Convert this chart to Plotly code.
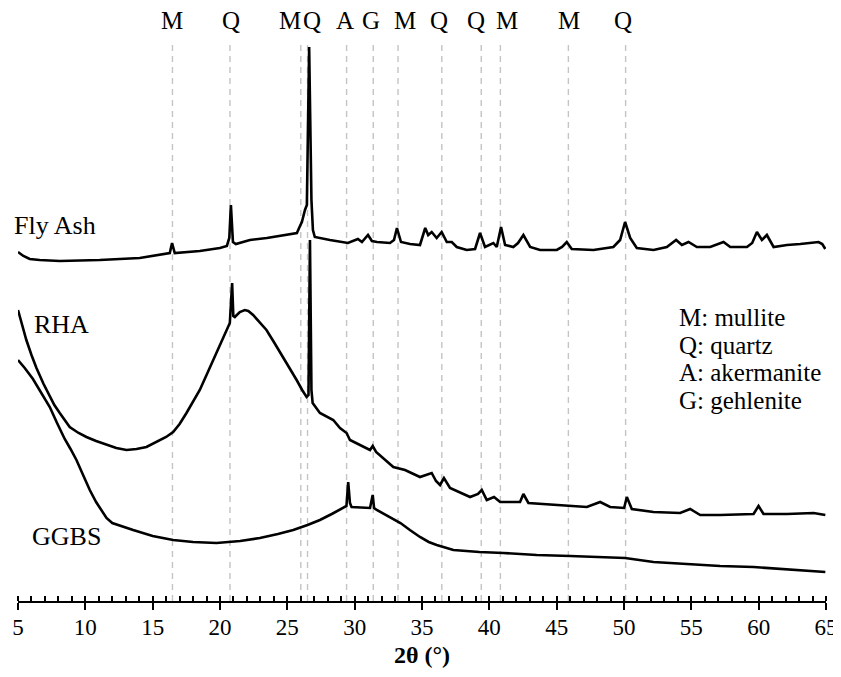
import plotly.graph_objects as go

# 2theta (deg) and relative intensity (a.u.)
fa_2theta = [5.0, 5.4, 5.87, 6.61, 8.1, 11.07, 14.04, 15.9, 16.27, 16.44, 16.64, 18.5, 19.99, 20.51, 20.69,
             20.81, 20.96, 21.18, 22.22, 23.48, 24.45, 25.71, 25.94, 26.08, 26.31, 26.45, 26.62, 26.79,
             26.9, 27.04, 28.16, 29.5, 30.24, 30.54, 30.99, 31.28, 31.66, 32.62, 32.92, 33.14, 33.44,
             34.11, 34.85, 35.24, 35.46, 35.72, 36.09, 36.46, 36.84, 37.21, 37.58, 38.32, 38.94, 39.31,
             39.68, 40.3, 40.55, 40.87, 41.17, 41.78, 42.13, 42.53, 43.03, 43.77, 45.01, 45.4, 45.75,
             46.12, 47.73, 49.21, 49.71, 50.08, 50.46, 50.95, 52.19, 53.18, 53.87, 54.3, 54.79, 55.41,
             56.4, 57.39, 57.89, 59.13, 59.52, 59.87, 60.24, 60.61, 61.11, 62.1, 63.09, 63.83, 64.45,
             64.72, 64.95]
fa_int = [349, 345, 342, 341, 340, 341, 343, 347, 348, 358, 348, 350, 353, 355, 363,
          396, 359, 357, 361, 363, 365, 368, 375, 379, 391, 396, 554, 401,
          371, 364, 361, 358, 362, 359, 366, 360, 359, 358, 361, 373, 359,
          357, 356, 373, 366, 369, 363, 369, 359, 359, 354, 351, 352, 368,
          354, 358, 354, 374, 356, 354, 358, 366, 354, 351, 351, 354, 359,
          352, 351, 354, 361, 379, 363, 353, 351, 354, 361, 356, 359, 354,
          354, 359, 354, 354, 358, 369, 361, 366, 354, 356, 357, 358, 359,
          357, 352]

rha_2theta = [5.0, 5.3, 5.62, 6.0, 6.37, 6.9, 7.36, 7.7, 8.1, 8.5, 8.84, 9.5, 10.08, 10.8, 11.57, 12.3,
              13.06, 13.8, 14.54, 15.0, 15.53, 16.0, 16.52, 17.0, 17.51, 18.0, 18.5, 19.0, 19.49, 19.9,
              20.23, 20.5, 20.73, 20.9, 20.99, 21.1, 21.47, 21.84, 22.1, 22.46, 22.9, 23.45, 24.0,
              24.69, 25.2, 25.69, 26.1, 26.43, 26.57, 26.68, 26.79, 26.88, 27.42, 28.41, 28.91, 29.4,
              29.65, 30.39, 31.14, 31.34, 31.59, 32.87, 33.74, 34.85, 35.72, 36.04, 36.34, 36.63, 37.08,
              38.57, 39.16, 39.44, 39.81, 40.35, 40.8, 42.28, 42.53, 42.9, 44.76, 47.24, 48.23, 48.97,
              50.01, 50.21, 50.58, 52.19, 54.17, 54.91, 55.66, 57.14, 59.62, 59.99, 60.36, 62.1, 64.08,
              64.95]
rha_int = [291, 276, 261, 246, 233, 217, 205, 196, 188, 180, 174, 168, 164, 160, 156, 153,
           151, 152, 154, 157, 161, 164, 169, 177, 188, 199, 211, 226, 241, 254,
           264, 272, 278, 318, 285, 284, 289, 291, 290, 286, 279, 271, 259,
           244, 233, 221, 211, 204, 206, 361, 211, 198, 188, 181, 173, 168,
           161, 156, 151, 155, 149, 134, 131, 124, 128, 120, 116, 123, 113,
           104, 107, 111, 101, 104, 99, 99, 107, 98, 96, 94, 99, 94,
           93, 104, 92, 89, 88, 92, 86, 86, 87, 95, 87, 87, 88,
           86]

ggbs_2theta = [5.0, 5.5, 6.11, 6.7, 7.36, 7.9, 8.47, 8.9, 9.34, 9.8, 10.33, 10.8, 11.2, 11.57, 12.0,
               12.6, 13.55, 15.0, 16.52, 18.0, 19.74, 21.5, 22.96, 24.3, 25.44, 26.5, 27.42, 28.3,
               29.15, 29.39, 29.52, 29.65, 29.77, 31.14, 31.34, 31.44, 31.64, 32.5, 33.4, 34.1, 34.85,
               35.5, 36.09, 37.33, 39.26, 41.04, 43.52, 46.0, 48.47, 50.08, 52.19, 54.67, 57.14, 59.62,
               62.1, 64.95]
ggbs_int = [241, 233, 222, 209, 194, 178, 162, 152, 141, 127, 111, 99, 90, 83, 78,
            75, 71, 65, 61, 59, 58, 60, 63, 67, 71, 76, 81, 87,
            93, 95, 119, 98, 94, 93, 106, 93, 91, 85, 78, 71, 64,
            59, 56, 51, 49, 48, 46, 45, 44, 43, 39, 37, 35, 34,
            32, 29]

# reference lines and phase labels
ref_lines = [16.47, 20.74, 26.0, 26.5, 29.4, 31.38, 33.22, 36.47, 39.4, 40.82, 45.87, 50.12]
phase_labels = ["M", "Q", "M", "Q", "A", "G", "M", "Q", "Q", "M", "M", "Q"]
phase_label_x = [16.42, 20.8, 25.19, 26.83, 29.28, 31.21, 33.74, 36.26, 39.01, 41.32, 45.93, 49.94]

legend_lines = ["M: mullite", "Q: quartz", "A: akermanite", "G: gehlenite"]
legend_y = [284, 256, 229, 201]

FONT = "Liberation Serif"

fig = go.Figure()
for xs, ys in [(fa_2theta, fa_int), (rha_2theta, rha_int), (ggbs_2theta, ggbs_int)]:
    fig.add_trace(go.Scatter(x=xs, y=ys, mode="lines", line=dict(color="black", width=2.6),
                             showlegend=False, hoverinfo="skip"))

for xv in ref_lines:
    fig.add_shape(type="line", x0=xv, x1=xv, y0=0, y1=1, xref="x", yref="paper", layer="below",
                  line=dict(color="#c4c4c4", width=1.4, dash="6px,5px"))

annotations = []
for lab, xv in zip(phase_labels, phase_label_x):
    annotations.append(dict(x=xv, y=1, yref="paper", yanchor="middle", yshift=22, text=lab,
                            showarrow=False, font=dict(family=FONT, size=25, color="black")))

# sample names
annotations.append(dict(x=0, xref="paper", xshift=-6, y=376, text="Fly Ash", showarrow=False,
                        xanchor="left", font=dict(family=FONT, size=26, color="black")))
annotations.append(dict(x=6.04, y=277, text="RHA", showarrow=False, xanchor="left",
                        font=dict(family=FONT, size=26, color="black")))
annotations.append(dict(x=5.92, y=65, text="GGBS", showarrow=False, xanchor="left",
                        font=dict(family=FONT, size=26, color="black")))

for txt, yv in zip(legend_lines, legend_y):
    annotations.append(dict(x=53.95, y=yv, text=txt, showarrow=False, xanchor="left",
                            font=dict(family=FONT, size=25, color="black")))

annotations.append(dict(x=0.5, y=0, xref="paper", yref="paper", yanchor="middle", yshift=-54,
                        text="<b>2θ (°)</b>", showarrow=False,
                        font=dict(family=FONT, size=24, color="black")))

# page body keeps an 8px margin, so the figure is sized to fit inside the window
fig.update_layout(
    width=833, height=661,
    margin=dict(l=10, r=15, t=34, b=68, autoexpand=False),
    plot_bgcolor="white", paper_bgcolor="white",
    font=dict(family=FONT, color="black"),
    showlegend=False,
    annotations=annotations,
    xaxis=dict(range=[5, 65], tick0=5, dtick=5, showline=True, linecolor="black", linewidth=2,
               ticks="outside", ticklen=7, tickwidth=2, tickcolor="black", showgrid=False,
               zeroline=False, ticklabelstandoff=-3, automargin=False,
               tickfont=dict(family=FONT, size=23, color="black"),
               minor=dict(ticks="inside", dtick=1, ticklen=5, tickwidth=1.5, tickcolor="black",
                          showgrid=False)),
    xaxis2=dict(range=[5, 65], overlaying="x", anchor="y", side="bottom", tick0=5, dtick=5,
                ticks="inside", ticklen=6, tickwidth=2, tickcolor="black", showticklabels=False,
                showgrid=False, zeroline=False, showline=False, automargin=False),
    yaxis=dict(range=[0, 559], visible=False, showgrid=False, zeroline=False, automargin=False),
)

fig.write_html("out.html")
